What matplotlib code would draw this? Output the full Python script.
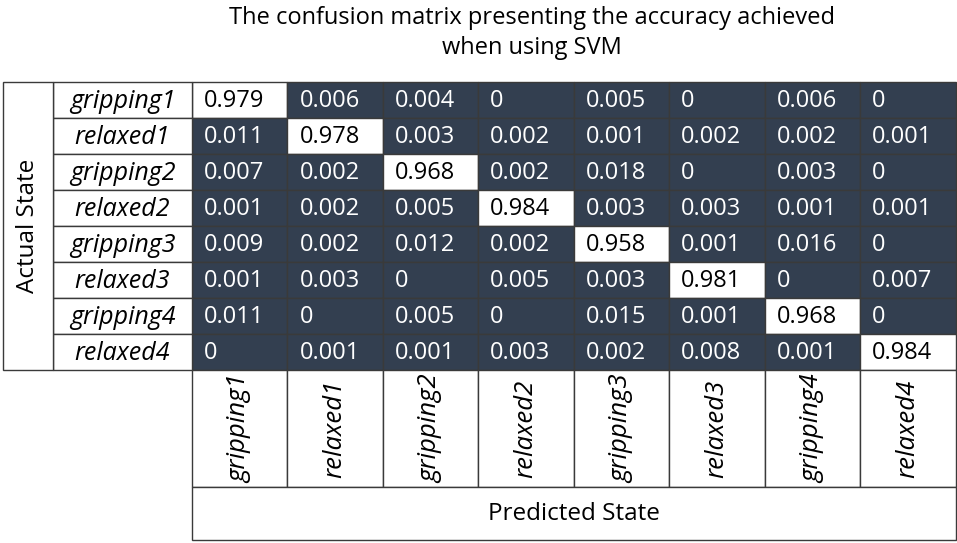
import numpy as np
import matplotlib
matplotlib.use("agg")
import matplotlib.pyplot as plt
from matplotlib.patches import Rectangle

states = ["gripping1", "relaxed1", "gripping2", "relaxed2",
          "gripping3", "relaxed3", "gripping4", "relaxed4"]

# rows = actual state, columns = predicted state (shown as text in the cells)
values = [
    ["0.979", "0.006", "0.004", "0",     "0.005", "0",     "0.006", "0"],
    ["0.011", "0.978", "0.003", "0.002", "0.001", "0.002", "0.002", "0.001"],
    ["0.007", "0.002", "0.968", "0.002", "0.018", "0",     "0.003", "0"],
    ["0.001", "0.002", "0.005", "0.984", "0.003", "0.003", "0.001", "0.001"],
    ["0.009", "0.002", "0.012", "0.002", "0.958", "0.001", "0.016", "0"],
    ["0.001", "0.003", "0",     "0.005", "0.003", "0.981", "0",     "0.007"],
    ["0.011", "0",     "0.005", "0",     "0.015", "0.001", "0.968", "0"],
    ["0",     "0.001", "0.001", "0.003", "0.002", "0.008", "0.001", "0.984"],
]

title = "The confusion matrix presenting the accuracy achieved\nwhen using SVM"
xlabel = "Predicted State"
ylabel = "Actual State"

dark = "#333F50"
edge = "#3a3a3a"
font = "Open Sans"

W, H = 957, 543
# sizes in pixels
cw, rh = 95.45, 36.0
x0, y0 = 192, 82          # top-left corner of the matrix
lab_w = 139               # row label column
side_w = 50               # "Actual State" column
collab_h = 117            # column label band
pred_h = 53               # "Predicted State" band

fig = plt.figure(figsize=(W / 100, H / 100), dpi=100)
ax = fig.add_axes([0, 0, 1, 1])
# axes in cell units: cell (i, j) spans x in [j, j+1], y in [i, i+1]
ax.set_xlim(-x0 / cw, (W - x0) / cw)
ax.set_ylim((H - y0) / rh, -y0 / rh)
ax.axis("off")

n = len(states)
lw = 1.0

# matrix cells
for i in range(n):
    for j in range(n):
        diag = i == j
        ax.add_patch(Rectangle((j, i), 1, 1, facecolor="white" if diag else dark,
                               edgecolor=edge, lw=lw))
        ax.text(j + 12 / cw, i + 0.53, values[i][j], ha="left", va="center",
                fontsize=17, family=font, color="black" if diag else "white")

# row labels
lx = -lab_w / cw
for i, s in enumerate(states):
    ax.add_patch(Rectangle((lx, i), lab_w / cw, 1, facecolor="white",
                           edgecolor=edge, lw=lw))
    ax.text(lx / 2, i + 0.53, s, ha="center", va="center", fontsize=18,
            family=font, style="italic")

# "Actual State" column
sx = lx - side_w / cw
ax.add_patch(Rectangle((sx, 0), side_w / cw, n, facecolor="white",
                       edgecolor=edge, lw=lw))
ax.text(sx + side_w / cw / 2, n / 2, ylabel, ha="center", va="center",
        rotation=90, fontsize=17.5, family=font)

# column labels
ch = collab_h / rh
for j, s in enumerate(states):
    ax.add_patch(Rectangle((j, n), 1, ch, facecolor="white",
                           edgecolor=edge, lw=lw))
    ax.text(j + 0.5, n + ch / 2, s, ha="center", va="center", rotation=90,
            fontsize=18.5, family=font, style="italic")

# "Predicted State" band
ph = pred_h / rh
ax.add_patch(Rectangle((0, n + ch), n, ph, facecolor="white",
                       edgecolor=edge, lw=lw))
ax.text(n / 2, n + ch + ph / 2, xlabel, ha="center", va="center",
        fontsize=17.5, family=font)

# title
ax.text((532 - x0) / cw, (33 - y0) / rh, title, ha="center", va="center",
        fontsize=17, family=font, linespacing=1.3)

fig.savefig("out.png", dpi=100)
